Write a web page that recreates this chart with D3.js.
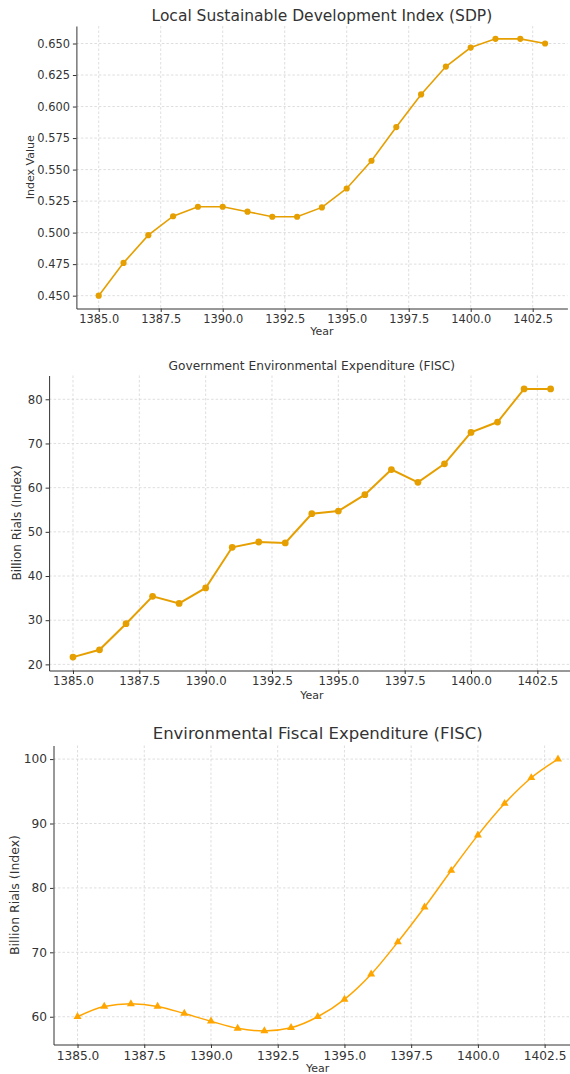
<!DOCTYPE html>
<html>
<head>
<meta charset="utf-8">
<script src="https://cdn.jsdelivr.net/npm/d3@7"></script>
<style>
  body { margin: 0; background: #fff; }
  svg { font-family: "DejaVu Sans", sans-serif; }
  .axis path, .axis line { stroke: #333; }
  .axis text { fill: #333; }
  .grid line { stroke: #d0d0d0; stroke-dasharray: 2.5,2; stroke-width: 0.7; }
</style>
</head>
<body>
<div id="chart-area"></div>
<script>
// data
var years = [1385, 1386, 1387, 1388, 1389, 1390, 1391, 1392, 1393, 1394,
	1395, 1396, 1397, 1398, 1399, 1400, 1401, 1402, 1403]
var sdp = [0.450, 0.476, 0.498, 0.513, 0.5205, 0.5205, 0.5166, 0.5126, 0.5126, 0.520,
	0.535, 0.557, 0.5837, 0.6096, 0.6317, 0.6468, 0.6537, 0.6537, 0.650]
var govExp = [21.65, 23.3, 29.2, 35.4, 33.8, 37.3, 46.5, 47.7, 47.5, 54.1,
	54.7, 58.4, 64.1, 61.2, 65.4, 72.5, 74.85, 82.35, 82.35]
var fiscExp = [60.0, 61.6, 62.0, 61.6, 60.5, 59.3, 58.2, 57.8, 58.3, 60.0,
	62.7, 66.6, 71.6, 77.0, 82.7, 88.2, 93.1, 97.1, 100.0]

var xTicks = [1385, 1387.5, 1390, 1392.5, 1395, 1397.5, 1400, 1402.5]
var sdpTicks = [0.450, 0.475, 0.500, 0.525, 0.550, 0.575, 0.600, 0.625, 0.650]
var govTicks = [20, 30, 40, 50, 60, 70, 80]
var fiscTicks = [60, 70, 80, 90, 100]

var svg = d3.select("#chart-area")
	.append("svg")
		.attr("width", 570)
		.attr("height", 1074)

// pad like matplotlib (5% each side)
function padded(ext) {
	var m = (ext[1] - ext[0]) * 0.05
	return [ext[0] - m, ext[1] + m]
}

function panel(cfg) {
	var x = d3.scaleLinear()
		.domain(padded(d3.extent(years)))
		.range([cfg.left, cfg.right])
	var y = d3.scaleLinear()
		.domain(padded(d3.extent(cfg.values)))
		.range([cfg.bottom, cfg.top])

	var g = svg.append("g")

	// grid
	var grid = g.append("g").attr("class", "grid")
	grid.selectAll(".gx").data(xTicks).enter().append("line")
		.attr("x1", d => x(d)).attr("x2", d => x(d))
		.attr("y1", cfg.top).attr("y2", cfg.bottom)
	grid.selectAll(".gy").data(cfg.ticks).enter().append("line")
		.attr("x1", cfg.left).attr("x2", Math.min(cfg.right, 570))
		.attr("y1", d => y(d)).attr("y2", d => y(d))

	// axes
	g.append("g")
		.attr("class", "x axis")
		.attr("transform", "translate(0," + cfg.bottom + ")")
		.call(d3.axisBottom(x).tickValues(xTicks).tickFormat(d3.format(".1f"))
			.tickSizeInner(3.5).tickSizeOuter(0).tickPadding(3))
		.attr("font-size", cfg.tickSize + "px")
		.attr("font-family", null)
	g.append("g")
		.attr("class", "y axis")
		.attr("transform", "translate(" + cfg.left + ",0)")
		.call(d3.axisLeft(y).tickValues(cfg.ticks).tickFormat(cfg.fmt)
			.tickSizeInner(3.5).tickSizeOuter(0).tickPadding(3))
		.attr("font-size", cfg.tickSize + "px")
		.attr("font-family", null)

	// titles
	g.append("text")
		.attr("x", (cfg.left + cfg.right) / 2)
		.attr("y", cfg.titleY)
		.attr("text-anchor", "middle")
		.attr("font-size", cfg.titleSize + "px")
		.attr("fill", "#333")
		.text(cfg.title)
	g.append("text")
		.attr("x", (cfg.left + cfg.right) / 2)
		.attr("y", cfg.xLabelY)
		.attr("text-anchor", "middle")
		.attr("font-size", "11px")
		.attr("fill", "#333")
		.text("Year")
	g.append("text")
		.attr("transform", "rotate(-90)")
		.attr("x", -(cfg.top + cfg.bottom) / 2)
		.attr("y", cfg.yLabelX)
		.attr("text-anchor", "middle")
		.attr("font-size", cfg.yLabelSize + "px")
		.attr("fill", "#333")
		.text(cfg.yLabel)

	// line
	var line = d3.line()
		.x((d, i) => x(years[i]))
		.y(d => y(d))
		.curve(cfg.curve)
	g.append("path")
		.datum(cfg.values)
		.attr("fill", "none")
		.attr("stroke", cfg.color)
		.attr("stroke-width", cfg.lineWidth)
		.attr("d", line)

	// markers
	g.selectAll(".mark").data(cfg.values).enter().append("path")
		.attr("transform", (d, i) => "translate(" + x(years[i]) + "," + y(d) + ")")
		.attr("d", d3.symbol().type(cfg.symbol).size(cfg.symbolSize))
		.attr("fill", cfg.color)
}

panel({
	values: sdp, ticks: sdpTicks, fmt: d3.format(".3f"),
	left: 76.4, right: 567.4, top: 26, bottom: 308.5,
	title: "Local Sustainable Development Index (SDP)", titleSize: 15.5, titleY: 20.5,
	xLabelY: 335, yLabelX: 34, yLabel: "Index Value", yLabelSize: 11, tickSize: 11.4,
	color: "#e69f00", lineWidth: 1.6, curve: d3.curveLinear,
	symbol: d3.symbolCircle, symbolSize: 30
})

panel({
	values: govExp, ticks: govTicks, fmt: d3.format("d"),
	left: 49.1, right: 574.5, top: 375.5, bottom: 670.5,
	title: "Government Environmental Expenditure (FISC)", titleSize: 12.2, titleY: 369.5,
	xLabelY: 699, yLabelX: 21, yLabel: "Billion Rials (Index)", yLabelSize: 12, tickSize: 11.7,
	color: "#e69f00", lineWidth: 2, curve: d3.curveLinear,
	symbol: d3.symbolCircle, symbolSize: 36
})

panel({
	values: fiscExp, ticks: fiscTicks, fmt: d3.format("d"),
	left: 53.5, right: 582, top: 745.5, bottom: 1044.5,
	title: "Environmental Fiscal Expenditure (FISC)", titleSize: 16.5, titleY: 739,
	xLabelY: 1071.5, yLabelX: 19, yLabel: "Billion Rials (Index)", yLabelSize: 12.5, tickSize: 12.2,
	color: "#ffa500", lineWidth: 1.5, curve: d3.curveMonotoneX,
	symbol: d3.symbolTriangle, symbolSize: 28
})
</script>
</body>
</html>
